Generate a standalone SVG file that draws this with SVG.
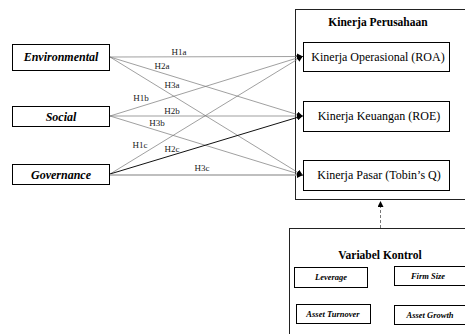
<svg xmlns="http://www.w3.org/2000/svg" width="465" height="334" viewBox="0 0 465 334" font-family="Liberation Serif, Times New Roman, serif">
<defs>
<marker id="ah" markerWidth="6" markerHeight="6" refX="5" refY="3" orient="auto" markerUnits="userSpaceOnUse">
<path d="M0,0 L6,3 L0,6 z" fill="#000"/>
</marker>
<style>
.box{fill:#fff;stroke:#000;stroke-width:1}
.grp{fill:none;stroke:#222;stroke-width:1}
.var{font-weight:bold;font-style:italic;font-size:12px;text-anchor:middle}
.dep{font-size:12px;text-anchor:middle}
.ttl{font-weight:bold;font-size:11.5px;text-anchor:middle}
.ctl{font-weight:bold;font-style:italic;font-size:8.5px;text-anchor:middle}
.lbl{font-size:9px;text-anchor:middle;fill:#222}
.ln{fill:none;stroke:#777;stroke-width:0.7}
</style>
</defs>
<rect width="465" height="334" fill="#fff"/>

<g id="kinerja-perusahaan">
<rect class="grp" x="295.5" y="9.5" width="175" height="190"/>
<text class="ttl" x="378" y="26">Kinerja Perusahaan</text>
</g>

<g id="variabel-kontrol">
<rect class="grp" x="289.5" y="228.5" width="180" height="110"/>
<text class="ttl" x="380" y="259">Variabel  Kontrol</text>
</g>

<g id="connectors">
<line class="ln" x1="110" y1="57" x2="302" y2="56.5" marker-end="url(#ah)"/>
<line class="ln" x1="110" y1="57" x2="302" y2="116" marker-end="url(#ah)"/>
<line class="ln" x1="110" y1="57" x2="302" y2="175" marker-end="url(#ah)"/>
<line class="ln" x1="110" y1="116" x2="302" y2="56.5" marker-end="url(#ah)"/>
<line class="ln" x1="110" y1="116" x2="302" y2="116" marker-end="url(#ah)"/>
<line class="ln" x1="110" y1="116" x2="302" y2="175" marker-end="url(#ah)"/>
<line class="ln" x1="110" y1="174" x2="302" y2="56.5" marker-end="url(#ah)"/>
<line x1="110" y1="174" x2="302" y2="116" stroke="#111" stroke-width="1" marker-end="url(#ah)"/>
<line x1="110" y1="175" x2="302" y2="175" stroke="#aaa" stroke-width="1.3" marker-end="url(#ah)"/>
<line x1="380.5" y1="228" x2="380.5" y2="202" stroke="#777" stroke-width="1" stroke-dasharray="3,2" marker-end="url(#ah)"/>
<text class="lbl" x="179" y="55">H1a</text>
<text class="lbl" x="162" y="69">H2a</text>
<text class="lbl" x="172" y="88">H3a</text>
<text class="lbl" x="141" y="101">H1b</text>
<text class="lbl" x="172" y="114">H2b</text>
<text class="lbl" x="157" y="126">H3b</text>
<text class="lbl" x="140" y="148">H1c</text>
<text class="lbl" x="172" y="152">H2c</text>
<text class="lbl" x="202" y="171">H3c</text>
</g>

<g id="environmental">
<rect class="box" x="12.5" y="44.5" width="97" height="26"/>
<text class="var" x="61" y="61">Environmental</text>
</g>
<g id="social">
<rect class="box" x="12.5" y="106.5" width="97" height="20"/>
<text class="var" x="61" y="120.5">Social</text>
</g>
<g id="governance">
<rect class="box" x="12.5" y="164.5" width="97" height="20"/>
<text class="var" x="61" y="178.5">Governance</text>
</g>

<g id="roa">
<rect class="box" x="303.5" y="42.5" width="146" height="29"/>
<text class="dep" x="378" y="61">Kinerja  Operasional (ROA)</text>
</g>
<g id="roe">
<rect class="box" x="303.5" y="101.5" width="146" height="30"/>
<text class="dep" x="379" y="120">Kinerja  Keuangan (ROE)</text>
</g>
<g id="tobin">
<rect class="box" x="303.5" y="160.5" width="146" height="30"/>
<text class="dep" x="379" y="179">Kinerja Pasar (Tobin’s Q)</text>
</g>

<g id="leverage">
<rect class="box" x="294.5" y="267.5" width="73" height="20"/>
<text class="ctl" x="331" y="280">Leverage</text>
</g>
<g id="firm-size">
<rect class="box" x="394.5" y="266.5" width="76" height="19"/>
<text class="ctl" x="428" y="279">Firm Size</text>
</g>
<g id="asset-turnover">
<rect class="box" x="296.5" y="304.5" width="74" height="19"/>
<text class="ctl" x="333" y="317">Asset Turnover</text>
</g>
<g id="asset-growth">
<rect class="box" x="394.5" y="305.5" width="76" height="19"/>
<text class="ctl" x="430" y="318">Asset Growth</text>
</g>
</svg>
